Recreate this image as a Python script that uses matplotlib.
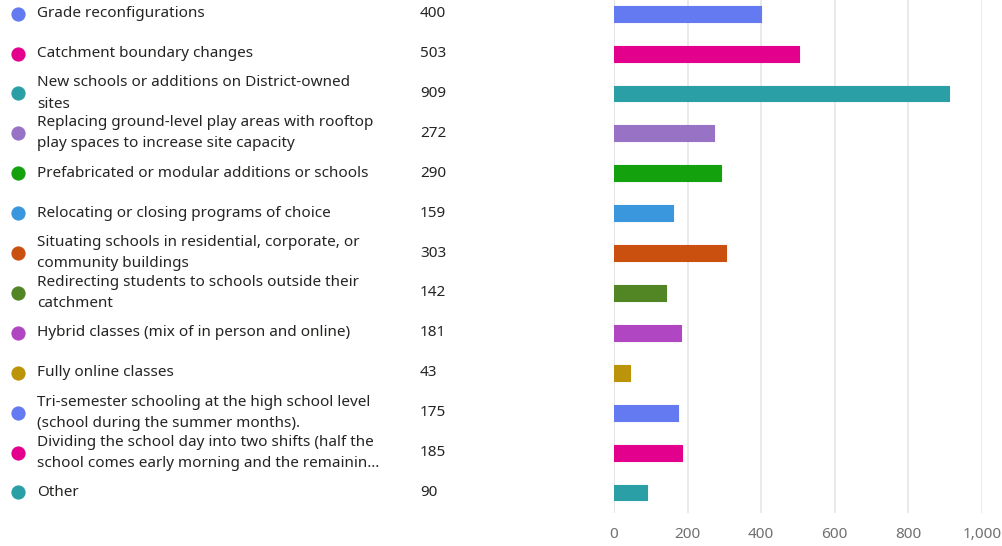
import matplotlib
matplotlib.use("Agg")
import matplotlib.pyplot as plt
import matplotlib.transforms as mtransforms
from matplotlib.ticker import FuncFormatter

plt.rcParams['font.family'] = ['Noto Sans', 'DejaVu Sans']

options = [
    "Grade reconfigurations",
    "Catchment boundary changes",
    "New schools or additions on District-owned\nsites",
    "Replacing ground-level play areas with rooftop\nplay spaces to increase site capacity",
    "Prefabricated or modular additions or schools",
    "Relocating or closing programs of choice",
    "Situating schools in residential, corporate, or\ncommunity buildings",
    "Redirecting students to schools outside their\ncatchment",
    "Hybrid classes (mix of in person and online)",
    "Fully online classes",
    "Tri-semester schooling at the high school level\n(school during the summer months).",
    "Dividing the school day into two shifts (half the\nschool comes early morning and the remainin\u2026",
    "Other",
]
responses = [400, 503, 909, 272, 290, 159, 303, 142, 181, 43, 175, 185, 90]
palette = ["#647AF0", "#E3008C", "#2A9FA5", "#9872C4", "#13A10E", "#3A96DD",
           "#CA5010", "#528523", "#B146C2", "#BB940A"]
x_ticks = [0, 200, 400, 600, 800, 1000]

colors = [palette[i % len(palette)] for i in range(len(options))]
rows = list(range(len(options)))

fig = plt.figure(figsize=(10.02, 5.46), dpi=100)
ax = fig.add_axes([614 / 1002, 1 - 513 / 546, 368 / 1002, 513 / 546])

ax.barh(rows, responses, height=0.40, color=colors, edgecolor=colors,
        linewidth=0.8, joinstyle='round', zorder=3)

ax.set_xlim(0, 1000)
ax.set_ylim(12.514, -0.343)
ax.set_xticks(x_ticks)
ax.xaxis.set_major_formatter(FuncFormatter(lambda v, p: f"{v:,.0f}"))
ax.set_yticks([])
ax.tick_params(axis='x', length=0, pad=10, labelsize=11, labelcolor="#707070")
for s in ax.spines.values():
    s.set_visible(False)
ax.grid(axis='x', color="#E6E6E6", linewidth=1.2, zorder=0)
ax.axvline(0, color="#D2D2D2", linewidth=1.2, zorder=1)

# legend-style list on the left: dot, option label, count
trans = mtransforms.blended_transform_factory(fig.transFigure, ax.transData)
for i, (label, n, c) in enumerate(zip(options, responses, colors)):
    ax.scatter([18 / 1002], [i], s=105, color=c, transform=trans,
               clip_on=False, linewidths=0)
    ax.text(37 / 1002, i, label, transform=trans, ha='left', va='center',
            fontsize=11, color="#252423", linespacing=1.55)
    ax.text(420 / 1002, i, str(n), transform=trans, ha='left', va='center',
            fontsize=11, color="#252423")

fig.savefig("out.png", dpi=100)
